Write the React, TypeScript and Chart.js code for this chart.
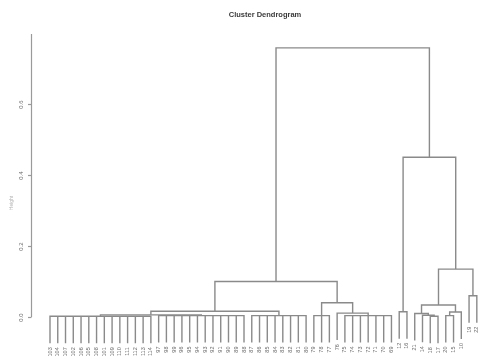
import React, { useEffect, useRef } from "react";
import { Chart, registerables } from "chart.js";

Chart.register(...registerables);

// ---- data ----
const titleText = "Cluster Dendrogram";
const yAxisLabel = "Height";
const yTickValues = [0, 0.2, 0.4, 0.6];
const yTickLabels = ["0.0", "0.2", "0.4", "0.6"];

// leaf labels in dendrogram order (left to right)
const leafLabels = [
  "103", "104", "107", "102", "106", "105", "108", "101", "109", "110", "111", "112", "113", "114",
  "97", "98", "99", "96", "95", "94", "93", "92", "91", "90", "89", "88",
  "87", "86", "85", "84", "83", "82", "81", "80",
  "79", "78", "77", "76", "75", "74", "73", "72", "71", "70", "69",
  "12", "16", "21", "14", "18", "17", "20", "15", "10", "19", "22",
];

// merges: negative = leaf position (-(i+1)), positive = earlier merge (1-based)
const mergeChildren: number[][] = [
  [-1, -2, -3, -4, -5, -6, -7, -8, -9, -10, -11, -12, -13, -14], // 1
  [-15, -16, -17, -18, -19, -20, -21, -22, -23, -24, -25, -26], // 2
  [1, 2], // 3
  [-27, -28, -29, -30, -31, -32, -33, -34], // 4
  [3, 4], // 5
  [-35, -36, -37], // 6
  [-39, -40, -41, -42, -43, -44, -45], // 7
  [-38, 7], // 8
  [6, 8], // 9
  [5, 9], // 10
  [-46, -47], // 11
  [-50, -51], // 12
  [-49, 12], // 13
  [-48, 13], // 14
  [-52, -53], // 15
  [15, -54], // 16
  [14, 16], // 17
  [-55, -56], // 18
  [17, 18], // 19
  [11, 19], // 20
  [10, 20], // 21
];
const mergeHeights = [
  0.002, 0.004, 0.006, 0.004, 0.016, 0.004, 0.004, 0.011, 0.04, 0.1,
  0.015, 0.002, 0.005, 0.01, 0.004, 0.014, 0.034, 0.06, 0.135, 0.45, 0.758,
];
const hang = 0.076;

type Pt = { x: number; y: number };

function buildTree() {
  const nodeX: number[] = [];
  const nodeH: number[] = [];
  const leafBottom: number[] = new Array(leafLabels.length).fill(0);
  const paths: Pt[][] = [];
  mergeChildren.forEach((ch, k) => {
    const h = mergeHeights[k];
    const xs = ch.map((c) => (c < 0 ? -c - 1 : nodeX[c - 1]));
    const ends = ch.map((c) => (c < 0 ? h - hang : nodeH[c - 1]));
    ch.forEach((c) => {
      if (c < 0) leafBottom[-c - 1] = h - hang;
    });
    const pts: Pt[] = [];
    xs.forEach((x, j) => {
      if (j === 0) {
        pts.push({ x, y: ends[j] });
        pts.push({ x, y: h });
      } else {
        pts.push({ x, y: h });
        pts.push({ x, y: ends[j] });
        if (j < xs.length - 1) pts.push({ x, y: h });
      }
    });
    paths.push(pts);
    nodeX[k] = (xs[0] + xs[xs.length - 1]) / 2;
    nodeH[k] = h;
  });
  return { paths, leafBottom };
}

const LINE = "#8a8a8a";
const TEXT = "#6a6a6a";

export default function App() {
  const ref = useRef<HTMLCanvasElement | null>(null);
  useEffect(() => {
    document.body.style.margin = "0";
    const { paths, leafBottom } = buildTree();
    const decor = {
      id: "dendroDecor",
      afterDraw(chart: any) {
        const { ctx, chartArea } = chart;
        const x = chart.scales.x;
        const y = chart.scales.y;
        ctx.save();
        // y axis
        const ax = chartArea.left;
        ctx.strokeStyle = "#9a9a9a";
        ctx.lineWidth = 1.2;
        ctx.beginPath();
        ctx.moveTo(ax + 0.5, y.getPixelForValue(0));
        ctx.lineTo(ax + 0.5, y.getPixelForValue(0.797));
        ctx.stroke();
        ctx.fillStyle = TEXT;
        ctx.font = "6px 'Liberation Sans', Arial, sans-serif";
        ctx.textAlign = "center";
        ctx.textBaseline = "middle";
        yTickValues.forEach((v, i) => {
          const py = Math.round(y.getPixelForValue(v)) + 0.5;
          ctx.beginPath();
          ctx.moveTo(ax + 0.5, py);
          ctx.lineTo(ax - 3, py);
          ctx.stroke();
          ctx.save();
          ctx.translate(21, py);
          ctx.rotate(-Math.PI / 2);
          ctx.fillText(yTickLabels[i], 0, 0);
          ctx.restore();
        });
        // y label
        ctx.save();
        ctx.fillStyle = "#b5b5b5";
        ctx.font = "5px 'Liberation Sans', Arial, sans-serif";
        ctx.translate(12, 203);
        ctx.rotate(-Math.PI / 2);
        ctx.fillText(yAxisLabel, 0, 0);
        ctx.restore();
        // leaf labels
        ctx.font = "5.5px 'Liberation Sans', Arial, sans-serif";
        ctx.textAlign = "right";
        ctx.textBaseline = "middle";
        leafLabels.forEach((lab, i) => {
          const px = x.getPixelForValue(i);
          const py = y.getPixelForValue(leafBottom[i]) + 4;
          ctx.save();
          ctx.translate(px, py);
          ctx.rotate(-Math.PI / 2);
          ctx.fillText(lab, 0, 0);
          ctx.restore();
        });
        // title
        ctx.fillStyle = "#3a3a3a";
        ctx.font = "bold 7.5px 'Liberation Sans', Arial, sans-serif";
        ctx.textAlign = "center";
        ctx.fillText(titleText, 265, 15);
        ctx.restore();
      },
    };
    const chart = new Chart(ref.current as HTMLCanvasElement, {
      type: "scatter",
      data: {
        datasets: paths.map((p) => ({
          data: p,
          showLine: true,
          borderColor: LINE,
          borderWidth: 1.4,
          pointRadius: 0,
          tension: 0,
          clip: false as any,
        })),
      },
      options: {
        animation: false,
        responsive: false,
        events: [],
        layout: { padding: { left: 31, right: 0, top: 33, bottom: 10.5 } },
        plugins: { legend: { display: false }, title: { display: false }, tooltip: { enabled: false } },
        scales: {
          x: { type: "linear", display: false, min: -2.448, max: 55.41 },
          y: { type: "linear", display: false, min: -0.1, max: 0.8 },
        },
      },
      plugins: [decor],
    });
    return () => chart.destroy();
  }, []);
  return (
    <div style={{ width: 480, height: 363, background: "#fff" }}>
      <canvas ref={ref} width={480} height={363} style={{ display: "block", filter: "blur(0.4px)" }} />
    </div>
  );
}
